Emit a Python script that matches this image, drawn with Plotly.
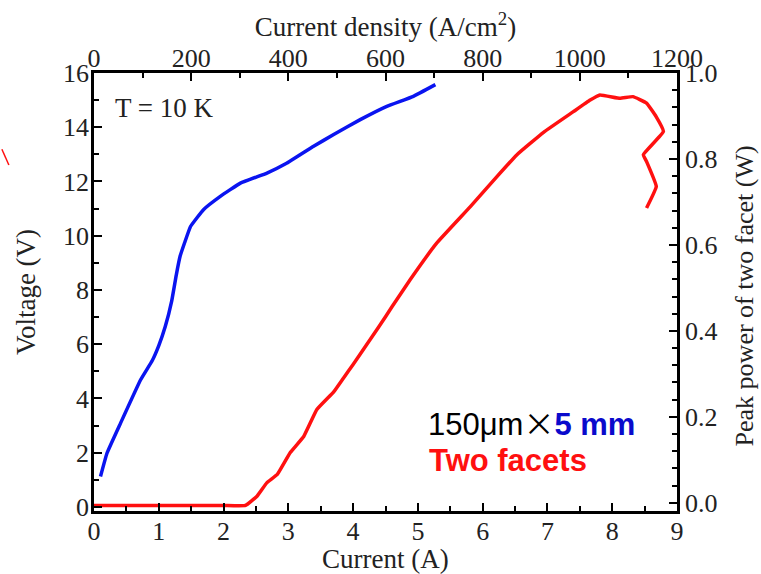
import plotly.graph_objects as go

# Voltage vs current (blue)
i_v = [0.10, 0.20, 0.41, 0.72, 0.90, 1.00, 1.10, 1.20, 1.27, 1.33, 1.40, 1.49, 1.69, 1.95,
       2.26, 2.67, 2.98, 3.39, 3.70, 4.11, 4.52, 4.93, 5.27]
voltage = [1.12, 1.98, 3.09, 4.69, 5.40, 5.95, 6.65, 7.60, 8.55, 9.25, 9.75, 10.34, 10.96, 11.45,
           11.94, 12.31, 12.68, 13.30, 13.73, 14.28, 14.77, 15.14, 15.57]

# Peak power vs current (red)
i_p = [0.00, 0.50, 1.00, 1.50, 2.00, 2.34, 2.52, 2.67, 2.83, 3.03, 3.24, 3.44, 3.70, 3.85,
       4.00, 4.20, 4.40, 4.60, 4.88, 5.29, 5.81, 6.22, 6.53, 6.94, 7.40, 7.66, 7.81, 8.12,
       8.32, 8.53, 8.68, 8.79, 8.48, 8.53, 8.68, 8.53]
power = [-0.006, -0.006, -0.006, -0.006, -0.006, -0.006, 0.016, 0.047, 0.066, 0.117, 0.155,
         0.217, 0.258, 0.290, 0.322, 0.366, 0.41, 0.456, 0.519, 0.604, 0.689, 0.759, 0.810, 0.862,
         0.91, 0.937, 0.949, 0.941, 0.945, 0.93, 0.898, 0.864, 0.81, 0.794, 0.736, 0.686]

SERIF = "Liberation Serif"
SANS = "Liberation Sans"
TICKF = dict(family=SERIF, size=26, color="#222")
TITLEF = dict(family=SERIF, size=27, color="#222")

fig = go.Figure()
fig.add_trace(go.Scatter(x=i_v, y=voltage, mode="lines",
                         line=dict(color="#0a14f0", width=3.5, shape="spline", smoothing=0.3),
                         xaxis="x", yaxis="y", showlegend=False))
fig.add_trace(go.Scatter(x=i_p, y=power, mode="lines",
                         line=dict(color="#ff1010", width=3.5, shape="spline", smoothing=0.3),
                         xaxis="x", yaxis="y2", showlegend=False))
fig.add_trace(go.Scatter(x=[0, 1200], y=[None, None], mode="lines", xaxis="x2", yaxis="y",
                         showlegend=False, hoverinfo="skip"))

axis_common = dict(showline=True, linecolor="black", linewidth=2.5, ticks="inside",
                   ticklen=8, tickwidth=2, tickcolor="black", showgrid=False, zeroline=False,
                   tickfont=TICKF, automargin=False)

fig.update_layout(
    width=761, height=574,
    margin=dict(l=94, r=84, t=73, b=63),
    paper_bgcolor="white", plot_bgcolor="white",
    xaxis=dict(range=[0, 9], dtick=1, tick0=0, ticklabelstandoff=-5,
               minor=dict(dtick=0.5, ticks="inside", ticklen=5, tickwidth=2, tickcolor="black"),
               **axis_common),
    xaxis2=dict(range=[0, 1200], dtick=200, tick0=0, overlaying="x", side="top", anchor="y",
                ticklabelstandoff=-7,
                minor=dict(dtick=100, ticks="inside", ticklen=5, tickwidth=2, tickcolor="black"),
                title=dict(text="Current density (A/cm<sup>2</sup>)", font=TITLEF, standoff=0), **axis_common),
    yaxis=dict(range=[-0.15, 16], dtick=2, tick0=0, ticklabelstandoff=-3,
               minor=dict(dtick=1, ticks="inside", ticklen=5, tickwidth=2, tickcolor="black"),
               title=dict(text="Voltage (V)", font=TITLEF, standoff=20), **axis_common),
    yaxis2=dict(range=[-0.019, 1.0], dtick=0.2, tick0=0, tickformat=".1f", overlaying="y", side="right",
                anchor="x",
                minor=dict(dtick=0.04, ticks="inside", ticklen=5, tickwidth=2, tickcolor="black"),
                **axis_common),
    annotations=[
        dict(x=0.5, y=-0.109, xref="paper", yref="paper", text="Current (A)", showarrow=False,
             xanchor="center", yanchor="middle", font=TITLEF),
        dict(x=1.115, y=0.49, xref="paper", yref="paper", text="Peak power of two facet (W)",
             showarrow=False, textangle=-90, xanchor="center", yanchor="middle",
             font=dict(family=SERIF, size=26, color="#222")),
        dict(x=0.30, y=14.72, xref="x", yref="y", text="T = 10 K", showarrow=False,
             xanchor="left", yanchor="middle", font=dict(family=SERIF, size=27, color="#222")),
        dict(x=5.12, y=3.14, xref="x", yref="y",
             text="150μm<span style='font-family:Noto Sans CJK SC;font-weight:normal'>×</span>"
                  "<b><span style='color:#0a0acc'>5 mm</span></b>", showarrow=False,
             xanchor="left", yanchor="middle", font=dict(family=SANS, size=31, color="black")),
        dict(x=5.14, y=1.70, xref="x", yref="y", text="<b>Two facets</b>", showarrow=False,
             xanchor="left", yanchor="middle", font=dict(family=SANS, size=31, color="#ff1010")),
    ],
    shapes=[dict(type="line", xref="paper", yref="paper", x0=-0.158, y0=0.826, x1=-0.146, y1=0.79,
                 line=dict(color="#ff1010", width=1.5))],
)

fig.write_html("out.html")
